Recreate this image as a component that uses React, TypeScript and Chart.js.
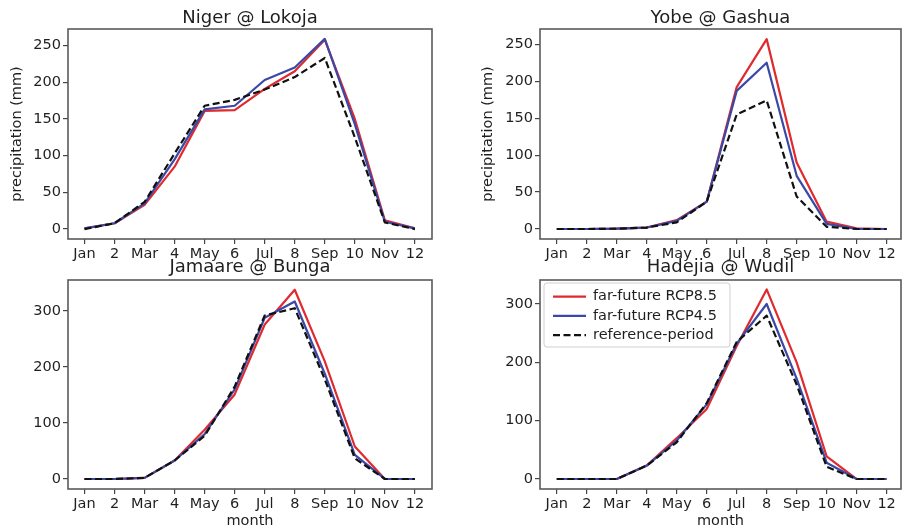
import React, { useEffect, useRef } from "react";
import { Chart, registerables } from "chart.js";

Chart.register(...registerables);

// ---------- data ----------
const monthLabels = ["Jan", "2", "Mar", "4", "May", "6", "Jul", "8", "Sep", "10", "Nov", "12"];
const seriesNames = ["far-future RCP8.5", "far-future RCP4.5", "reference-period"];

const nigerRcp85 = [1, 8, 33, 85, 161, 162, 191, 215, 258, 150, 12, 1];
const nigerRcp45 = [1, 8, 35, 95, 163, 168, 203, 220, 259, 143, 10, 1];
const nigerRef = [0, 8, 37, 103, 168, 176, 190, 207, 233, 125, 9, 0];

const yobeRcp85 = [0, 0, 0.5, 2, 12, 37, 192, 257, 90, 10, 1, 0];
const yobeRcp45 = [0, 0, 0.5, 2, 11, 37, 187, 225, 72, 7, 0, 0];
const yobeRef = [0, 0, 0.5, 2, 9, 37, 155, 174, 44, 3, 0, 0];

const jamaareRcp85 = [0, 0, 2, 33, 88, 151, 276, 338, 210, 58, 0, 0];
const jamaareRcp45 = [0, 0, 2, 33, 80, 160, 288, 317, 188, 43, 0, 0];
const jamaareRef = [0, 0, 2, 33, 77, 165, 292, 305, 178, 37, 0, 0];

const hadejiaRcp85 = [0, 0, 0, 23, 70, 120, 228, 325, 200, 39, 0, 0];
const hadejiaRcp45 = [0, 0, 0, 23, 66, 128, 232, 300, 172, 28, 0, 0];
const hadejiaRef = [0, 0, 0, 23, 63, 130, 235, 280, 162, 21, 0, 0];

const yTicksTop = [0, 50, 100, 150, 200, 250];
const yTicksBottom = [0, 100, 200, 300];

// ---------- styles ----------
const FONT = "'DejaVu Sans', 'Liberation Sans', sans-serif";
const TEXT = "#1f1f1f";
const COLORS = ["#e02a2d", "#3a48a6", "#111111"];
const DASHES: number[][] = [[], [], [7, 3.5]];

type Panel = {
  title: string;
  series: number[][];
  yMin: number;
  yMax: number;
  yTicks: number[];
  xMin: number;
  xMax: number;
  left: number;
  top: number;
  width: number;
  height: number;
  yWidth: number;
  xHeight: number;
  padRight: number;
  titleTop: number;
  titleY: number;
  yLabel: boolean;
  yLabelPad: number;
  xLabel: boolean;
  legend: boolean;
};

const panels: Panel[] = [
  {
    title: "Niger @ Lokoja",
    series: [nigerRcp85, nigerRcp45, nigerRef],
    yMin: -13.5, yMax: 272.5, yTicks: yTicksTop,
    xMin: -0.55, xMax: 11.57,
    left: 0, top: 0, width: 450, height: 265,
    yWidth: 68, xHeight: 26, padRight: 18,
    titleTop: 29, titleY: 18.5,
    yLabel: true, yLabelPad: 9, xLabel: false, legend: false,
  },
  {
    title: "Yobe @ Gashua",
    series: [yobeRcp85, yobeRcp45, yobeRef],
    yMin: -13.5, yMax: 270.7, yTicks: yTicksTop,
    xMin: -0.56, xMax: 11.48,
    left: 451, top: 0, width: 451, height: 265,
    yWidth: 89, xHeight: 26, padRight: 1,
    titleTop: 29, titleY: 18.2,
    yLabel: true, yLabelPad: 29, xLabel: false, legend: false,
  },
  {
    title: "Jamaare @ Bunga",
    series: [jamaareRcp85, jamaareRcp45, jamaareRef],
    yMin: -17.9, yMax: 355.4, yTicks: yTicksBottom,
    xMin: -0.55, xMax: 11.57,
    left: 0, top: 245, width: 450, height: 285,
    yWidth: 68, xHeight: 41, padRight: 18,
    titleTop: 35, titleY: 22,
    yLabel: false, yLabelPad: 0, xLabel: true, legend: false,
  },
  {
    title: "Hadejia @ Wudil",
    series: [hadejiaRcp85, hadejiaRcp45, hadejiaRef],
    yMin: -17.1, yMax: 341.1, yTicks: yTicksBottom,
    xMin: -0.56, xMax: 11.48,
    left: 451, top: 245, width: 451, height: 285,
    yWidth: 89, xHeight: 41, padRight: 1,
    titleTop: 35, titleY: 22,
    yLabel: false, yLabelPad: 0, xLabel: true, legend: true,
  },
];

const framePlugin = {
  id: "frameBox",
  afterDatasetsDraw(chart: any) {
    const { ctx, chartArea: a } = chart;
    ctx.save();
    ctx.strokeStyle = "#5a5a5a";
    ctx.lineWidth = 1.6;
    ctx.strokeRect(a.left, a.top, a.right - a.left, a.bottom - a.top);
    ctx.restore();
  },
};

const makeTitlePlugin = (text: string, y: number) => ({
  id: "axesTitle",
  afterDraw(chart: any) {
    const { ctx, chartArea: a } = chart;
    ctx.save();
    ctx.font = `18px ${FONT}`;
    ctx.fillStyle = TEXT;
    ctx.textAlign = "center";
    ctx.textBaseline = "middle";
    ctx.fillText(text, (a.left + a.right) / 2, y);
    ctx.restore();
  },
});

const makeLegendPlugin = (show: boolean) => ({
  id: "legendBox",
  afterDraw(chart: any) {
    if (!show) return;
    const { ctx, chartArea: a } = chart;
    const bx = a.left + 4;
    const by = a.top + 3;
    const bw = 186;
    const bh = 64;
    ctx.save();
    ctx.beginPath();
    ctx.roundRect(bx, by, bw, bh, 3);
    ctx.fillStyle = "rgba(255,255,255,0.85)";
    ctx.fill();
    ctx.strokeStyle = "#cfcfcf";
    ctx.lineWidth = 1;
    ctx.stroke();
    ctx.font = `14.5px ${FONT}`;
    ctx.textBaseline = "middle";
    ctx.textAlign = "left";
    seriesNames.forEach((name, i) => {
      const y = a.top + 16.7 + i * 19.2;
      ctx.beginPath();
      ctx.setLineDash(DASHES[i]);
      ctx.strokeStyle = COLORS[i];
      ctx.lineWidth = 2.2;
      ctx.moveTo(a.left + 13, y);
      ctx.lineTo(a.left + 46, y);
      ctx.stroke();
      ctx.setLineDash([]);
      ctx.fillStyle = TEXT;
      ctx.fillText(name, a.left + 53, y);
    });
    ctx.restore();
  },
});

function PanelChart({ p }: { p: Panel }) {
  const ref = useRef<HTMLCanvasElement | null>(null);
  useEffect(() => {
    if (!ref.current) return;
    const datasets = p.series.map((vals, i) => ({
      label: seriesNames[i],
      data: vals.map((v, j) => ({ x: j, y: v })),
      borderColor: COLORS[i],
      backgroundColor: COLORS[i],
      borderWidth: 2.2,
      borderDash: DASHES[i],
      borderJoinStyle: "round" as const,
      pointRadius: 0,
      tension: 0,
      fill: false,
      order: 3 - i,
    }));
    const chart = new Chart(ref.current, {
      type: "line",
      data: { datasets },
      plugins: [framePlugin, makeTitlePlugin(p.title, p.titleY), makeLegendPlugin(p.legend)],
      options: {
        responsive: false,
        animation: false,
        devicePixelRatio: 1,
        layout: { padding: { left: 0, top: p.titleTop, right: p.padRight, bottom: 0 } },
        plugins: {
          legend: { display: false },
          tooltip: { enabled: false },
          title: { display: false },
        },
        scales: {
          x: {
            type: "linear",
            min: p.xMin,
            max: p.xMax,
            afterBuildTicks: (s: any) => {
              s.ticks = monthLabels.map((_, i) => ({ value: i }));
            },
            afterFit: (s: any) => {
              s.height = p.xHeight;
            },
            ticks: {
              autoSkip: false,
              maxRotation: 0,
              color: TEXT,
              padding: 2,
              font: { family: FONT, size: 14.5 },
              callback: (v: any) => monthLabels[Math.round(Number(v))] ?? "",
            },
            grid: {
              display: true,
              drawOnChartArea: false,
              drawTicks: true,
              tickLength: 5,
              color: "#444",
              lineWidth: 1.2,
            },
            border: { display: false },
            title: {
              display: p.xLabel,
              text: "month",
              color: TEXT,
              font: { family: FONT, size: 14.5 },
              padding: { top: 0, bottom: 0 },
            },
          },
          y: {
            type: "linear",
            min: p.yMin,
            max: p.yMax,
            afterBuildTicks: (s: any) => {
              s.ticks = p.yTicks.map((v) => ({ value: v }));
            },
            afterFit: (s: any) => {
              s.width = p.yWidth;
            },
            ticks: {
              color: TEXT,
              padding: 2,
              font: { family: FONT, size: 14.5 },
            },
            grid: {
              display: true,
              drawOnChartArea: false,
              drawTicks: true,
              tickLength: 5,
              color: "#444",
              lineWidth: 1.2,
            },
            border: { display: false },
            title: {
              display: p.yLabel,
              text: "precipitation (mm)",
              color: TEXT,
              font: { family: FONT, size: 14.5 },
              padding: { top: p.yLabelPad, bottom: 0 },
            },
          },
        },
      } as any,
    });
    return () => chart.destroy();
  }, [p]);
  return (
    <canvas
      ref={ref}
      width={p.width}
      height={p.height}
      style={{ position: "absolute", left: p.left, top: p.top, width: p.width, height: p.height }}
    />
  );
}

export default function App() {
  return (
    <div
      style={{
        position: "absolute",
        left: 0,
        top: 0,
        width: 902,
        height: 530,
        background: "#ffffff",
        overflow: "hidden",
      }}
    >
      {panels.map((p) => (
        <PanelChart key={p.title} p={p} />
      ))}
    </div>
  );
}
